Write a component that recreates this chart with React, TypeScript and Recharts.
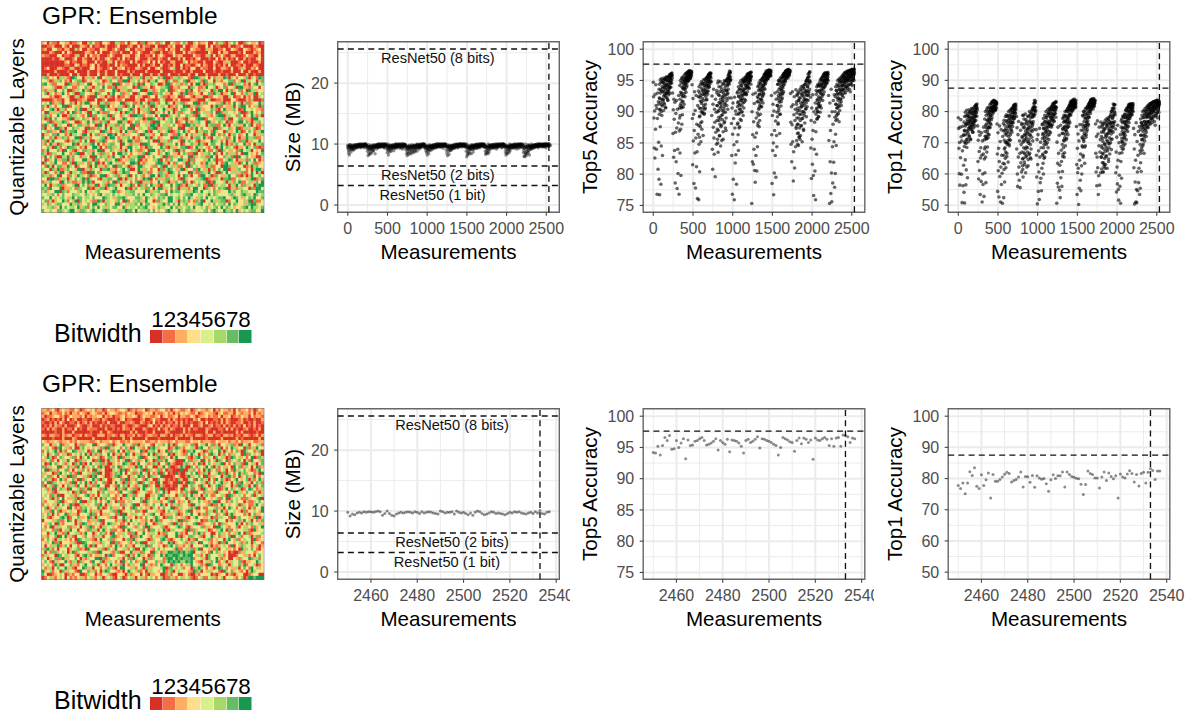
import React from "react";
import { ScatterChart, Scatter, XAxis, YAxis, CartesianGrid, ReferenceLine, ReferenceArea, ReferenceDot } from "recharts";

const palette = ["#d73027", "#f46d43", "#fdae61", "#fee08b", "#d9ef8b", "#a6d96a", "#66bd63", "#1a9850"];
const bitLabels = "12345678";

const cycleStarts = [0, 244, 488, 732, 980, 1240, 1488, 1728, 1980, 2208];
const bandStarts = [70, 330, 570, 800, 1060, 1310, 1560, 1800, 2050, 2290];

const top5Cycles = [
  [94.7,92.4,89.0,84.2,90.1,82.6,92.8,87.2,94.3,91.0,84.0,90.5,76.8,88.9,93.0,80.8,91.6,85.1,79.2,92.2,76.7,90.3,87.6,93.5,78.4,84.5,91.1,89.4,94.8,83.0,93.2,92.0,90.2,94.6,91.4,93.8,95.2,92.6,94.1,90.6,95.4,93.0,94.4,92.2,95.0,93.6,91.8,94.9,95.5,93.2,94.0,95.3,92.9,94.7,95.7,93.9,95.1,96.0,94.6,95.8],
  [93.0,86.5,90.3,82.7,92.0,88.8,83.8,91.5,78.6,86.7,89.7,82.0,91.8,87.4,77.7,90.4,84.0,80.1,88.2,92.6,76.8,86.9,89.0,83.4,91.0,87.2,79.8,90.6,93.0,88.0,91.7,89.5,93.8,90.7,92.5,94.6,91.2,93.7,95.0,92.4,94.4,95.4,93.1,94.9,95.6,94.2,95.2,96.0,95.0,95.7,96.2,95.3,95.9,96.4,95.6,96.1,95.4,96.3,95.8,96.4],
  [94.3,88.9,81.5,92.1,85.3,89.6,78.5,87.0,93.2,83.4,90.2,77.8,85.8,92.6,81.2,88.0,83.6,76.1,91.0,86.4,93.3,75.9,84.8,89.2,80.4,92.3,87.6,90.5,85.2,93.8,91.6,88.4,94.4,90.0,92.8,86.2,93.6,91.0,94.5,89.7,92.9,94.0,90.6,93.3,95.0,91.9,94.3,95.3,93.2,94.8,95.6,94.2,95.1,96.0,93.9,95.5,96.2,94.8,95.8,96.1],
  [94.8,89.4,92.5,84.0,80.8,91.2,87.5,93.6,85.8,83.2,90.4,88.3,79.6,92.0,86.7,89.9,84.8,93.0,91.0,87.2,85.0,83.5,94.9,90.2,88.6,92.6,86.1,91.4,89.0,84.5,94.0,90.8,87.8,93.2,91.6,89.5,92.2,85.6,94.5,90.4,88.2,93.4,91.2,94.8,89.9,92.7,87.0,95.0,93.3,91.8,94.4,95.3,93.0,95.8,94.6,96.1,95.2,96.5,95.6,96.2,95.0],
  [92.2,88.1,83.0,90.6,76.8,86.4,91.4,79.2,88.9,84.7,75.9,92.3,87.4,81.8,90.1,83.1,89.6,78.4,85.2,93.0,88.0,91.4,86.3,83.8,92.5,89.8,91.0,87.6,93.6,90.4,92.1,94.2,88.6,91.8,93.3,90.0,94.6,92.6,89.4,95.0,93.2,91.5,94.8,92.9,95.2,93.7,94.2,95.5,92.8,94.9,95.9,94.0,95.3,96.1,94.6,95.6,93.8,96.2,95.1,95.8,94.9,95.4,96.3,95.7],
  [75.3,90.0,82.0,86.3,92.8,81.6,88.4,84.0,91.3,80.6,85.9,78.7,93.0,83.0,89.0,86.6,80.5,91.6,84.4,87.8,92.2,89.4,94.2,90.6,92.7,88.6,93.5,91.4,94.6,92.0,93.4,90.8,95.0,93.8,92.4,95.4,94.2,93.0,95.6,94.6,96.0,95.0,94.4,96.2,95.4,96.5,95.7,96.1,95.2,96.4,95.9,96.6,95.5,96.2,96.0,96.4,95.8,96.6,96.1,95.7,96.3],
  [92.6,86.3,78.5,89.4,83.8,91.2,85.0,76.7,90.1,80.2,87.0,93.0,83.0,88.5,79.5,92.0,86.2,84.4,91.0,89.2,94.4,88.0,92.6,90.2,95.0,91.5,86.5,93.8,89.6,92.8,94.6,91.6,93.5,95.4,92.2,94.8,93.0,95.8,94.2,95.5,96.1,94.9,95.6,96.3,95.2,96.5,95.8,96.2,95.5,96.6,96.0,96.4,95.7,96.7,96.1,95.9,96.4,96.2,96.5],
  [92.9,88.3,84.8,90.8,82.0,87.9,93.2,85.2,91.1,78.9,83.6,89.5,92.4,81.0,88.6,90.4,84.4,93.5,87.3,91.6,89.0,92.8,86.5,90.2,88.0,84.6,91.8,93.0,86.0,89.6,85.6,92.2,90.7,87.7,93.4,91.0,88.9,92.6,90.0,93.8,91.3,87.2,94.0,92.0,89.8,93.1,91.7,94.4,92.8,90.5,95.0,93.4,91.9,95.3,94.0,92.6,96.0,94.7,93.2,95.6,96.3,94.9],
  [92.3,84.2,88.6,79.3,90.6,85.6,81.6,92.7,87.0,79.8,76.6,90.0,84.0,88.3,80.5,91.4,75.9,86.8,93.4,83.2,90.6,88.9,92.0,90.0,94.1,91.3,89.2,93.3,90.8,94.4,92.2,91.0,94.0,92.9,95.1,93.5,94.5,92.7,95.6,94.0,95.0,96.0,93.8,95.4,94.7,96.2,95.0,94.2,95.8,96.0,94.6,95.3,96.2,95.1,95.7,96.0],
  [92.6,85.4,89.3,75.3,91.4,82.0,87.0,76.9,93.6,80.2,75.6,90.0,84.4,78.6,88.0,91.8,81.9,85.2,92.7,77.9,89.1,80.1,86.4,91.2,84.6,93.4,90.6,88.8,92.2,89.6,94.0,91.0,92.8,88.4,93.5,90.2,94.6,92.0,93.2,95.0,91.6,94.2,92.8,95.3,93.6,94.8,92.3,95.6,94.2,93.4,95.8,94.7,95.2,93.0,96.2,94.9,95.5,94.0,96.0,95.3,93.8,96.4,95.0,95.7,94.3,96.5,95.4,96.1,93.2,96.6,95.6,94.5,96.3,95.8,96.7,94.9,96.2,95.2,96.5,96.0,96.8,96.4],
];

const top5Bands = [
  [91.2,93.6,89.6,94.4,92.1,90.4,95.1,93.0,91.5,94.7,90.0,93.3,95.3,92.0,94.0,90.9,93.8,95.0,91.8,94.6,92.5,93.2,95.4,91.2,94.2,92.8,95.2,93.5,90.7,94.9,92.3,93.9,95.6,92.9,94.4,93.1,95.5,91.9,94.1,95.0,93.4,92.7,95.7,94.3,93.7,95.9,94.8,93.9,95.3,96.0,94.5,95.6,96.1,95.0,95.8,96.2,95.4],
  [90.6,94.2,92.0,89.4,95.0,93.1,91.3,94.6,92.7,95.3,90.8,93.9,95.5,92.4,94.8,91.6,95.2,93.6,94.3,95.7,92.9,95.0,94.0,96.0,93.5,95.4,94.6,96.1,95.1,93.9,96.2,95.5,94.7,96.3,95.0,95.8,96.4,95.3,94.9,96.5,95.6,96.1,95.2,96.6,95.8,96.3,95.4,96.5,96.0,95.7,96.4,96.2],
  [92.4,87.8,94.0,90.6,85.9,93.0,89.3,91.7,94.4,88.2,92.6,90.0,94.8,91.3,87.2,93.4,89.8,92.1,94.6,90.6,93.2,95.1,91.8,89.6,94.2,92.7,90.4,95.2,93.5,91.2,94.7,92.4,95.4,93.0,94.2,91.9,95.5,93.8,92.8,95.7,94.5,93.3,95.9,94.9,94.0,96.0,95.2,94.4,96.1,95.6,94.8,96.2,95.4],
  [93.4,88.6,91.0,85.6,94.6,90.0,87.0,92.7,89.1,94.0,91.5,86.2,93.2,88.0,90.6,94.8,92.0,87.6,91.2,89.4,93.6,85.4,90.2,92.4,88.7,94.4,91.8,86.8,93.0,89.9,92.6,90.8,95.0,88.4,93.8,91.4,87.4,94.2,92.2,89.0,94.9,93.4,91.0,95.2,92.8,94.1,90.4,95.4,93.6,94.7,92.2,95.8,94.4,95.2,96.2,94.9,95.6,96.4,95.2],
  [90.8,93.2,88.2,91.6,94.0,89.6,92.4,87.4,93.6,90.4,94.6,91.2,88.8,93.0,91.8,95.0,89.9,92.6,94.2,90.9,93.8,92.1,95.2,91.4,93.4,94.8,92.8,90.6,95.4,93.6,92.0,94.5,95.0,93.0,91.8,95.6,94.2,92.7,95.3,93.8,94.9,95.7,93.2,94.4,95.9,94.0,95.2,96.0,94.6,93.7,95.5,96.1,94.9,95.7,96.2,95.2,94.4,96.3,95.6],
  [89.8,92.4,94.0,88.2,91.6,93.4,90.4,94.6,87.6,92.8,91.0,93.8,95.0,89.6,92.0,94.4,90.8,93.0,95.2,91.8,94.0,92.6,95.4,93.4,91.4,95.0,94.2,92.8,95.7,93.8,94.8,95.9,93.6,95.2,96.0,94.6,95.5,96.2,94.9,95.8,96.3,95.2,96.0,96.5,95.6,96.1,95.3,96.6,95.9,96.3,96.7,95.7,96.2,96.5,96.0,96.4,95.8,96.6],
  [89.9,93.2,91.0,94.4,88.2,92.2,95.0,90.6,93.6,91.8,94.8,89.6,93.0,95.3,92.4,94.2,90.9,95.5,93.4,92.0,95.0,94.0,92.8,95.8,93.8,94.6,96.0,93.2,95.4,96.1,94.4,95.7,96.2,95.0,96.3,94.8,95.9,96.5,95.3,96.1,96.6,95.6,96.3,96.7,95.9,96.4,95.4,96.6,96.0,96.8,96.2,95.8,96.5,96.3,96.6],
  [87.6,91.2,85.4,89.8,92.6,88.0,84.8,90.6,93.2,86.6,91.8,89.0,85.9,92.2,87.4,90.2,93.6,88.6,86.2,91.4,89.6,94.0,87.8,92.8,90.8,85.2,93.0,88.9,91.6,94.2,90.0,87.0,92.4,89.4,93.6,91.0,88.2,94.4,92.0,90.4,93.2,94.8,91.4,89.2,95.0,92.6,90.8,94.0,95.4,93.2,91.8,95.6,94.4,92.8,96.1,95.0,93.6,96.4,94.7],
  [89.6,92.8,90.4,94.0,88.8,91.8,93.2,90.0,94.4,91.2,89.2,92.4,94.2,90.8,93.4,91.6,94.8,89.9,93.0,95.2,92.0,94.2,90.6,95.4,93.4,92.4,95.0,94.4,91.8,95.6,93.8,92.8,95.8,94.6,93.2,96.0,95.0,94.0,95.6,96.2,94.4,95.3,96.1,94.8,95.8,96.2,95.2,94.6,96.0,95.5,96.3,95.0],
  [90.0,92.4,94.0,88.6,91.2,93.4,89.4,92.8,94.4,90.6,93.0,95.0,91.8,89.8,94.2,92.2,95.2,90.8,93.6,94.8,91.4,95.4,93.0,92.0,95.0,94.0,91.0,95.6,93.4,94.6,92.6,95.8,94.2,93.6,95.3,96.0,94.8,93.0,95.6,96.2,94.4,95.1,93.8,96.3,95.4,94.0,96.1,95.0,96.4,94.6,95.7,93.4,96.5,95.2,94.2,96.2,95.8,94.9,96.6,95.4,93.6,96.0,96.6,95.1,94.4,96.4,95.7,96.7,94.9,96.2,95.5,96.8,94.2,96.0,96.5,95.3,96.7,95.8,96.4,95.0,96.8,96.1],
];

const top1Cycles = [
  [78.0,74.6,68.2,60.1,70.1,56.4,75.0,65.2,77.4,71.9,59.9,70.6,50.8,67.4,75.3,56.2,72.5,62.8,54.1,73.8,50.7,69.9,64.5,76.0,56.5,61.3,71.0,68.5,78.8,58.8,76.2,74.0,70.3,78.4,72.2,76.8,79.7,74.8,77.3,71.2,80.1,75.8,78.2,74.2,79.4,76.6,73.4,78.9,80.2,76.0,77.6,79.9,75.4,78.6,80.6,77.2,79.6,81.8,78.5,81.0],
  [75.4,64.0,70.8,58.4,73.6,67.2,61.1,72.4,53.4,65.1,68.4,57.6,73.2,66.0,51.0,70.6,60.0,56.6,66.4,75.0,52.8,64.8,68.0,60.4,72.1,65.4,57.2,71.2,76.0,67.0,73.4,68.6,77.2,71.6,75.0,79.0,72.6,77.0,80.2,74.8,78.6,81.0,75.8,79.6,81.4,78.0,80.4,82.4,80.0,81.2,83.2,80.6,81.6,83.4,81.0,82.2,80.4,83.0,81.4,82.6],
  [76.0,66.4,54.4,73.2,61.0,68.2,52.6,64.0,75.4,59.2,70.4,51.0,62.2,74.2,56.6,66.0,60.2,50.6,72.0,63.4,76.2,52.4,61.4,68.0,57.4,74.0,65.0,70.2,62.0,77.0,73.2,66.6,78.4,70.0,75.2,63.8,77.2,72.0,78.8,69.0,75.4,78.0,70.8,76.6,79.8,74.0,78.4,80.6,76.4,79.6,81.0,78.2,80.0,82.0,77.8,80.8,82.2,79.6,81.4,81.8],
  [78.4,68.0,74.8,60.0,56.0,72.6,65.4,76.8,62.2,58.0,70.6,66.6,55.6,74.0,63.6,69.4,60.6,75.8,72.0,64.8,61.4,59.0,78.8,70.6,66.8,75.0,63.0,72.8,68.0,60.4,77.4,71.4,65.8,76.2,73.0,68.4,74.4,62.6,78.6,70.4,66.2,76.6,72.4,79.0,69.4,75.0,64.8,79.8,76.4,73.6,78.4,80.6,76.0,81.4,79.0,82.6,80.2,83.6,81.4,82.8,80.0],
  [74.2,66.0,59.0,71.0,50.4,63.0,72.6,54.4,67.4,60.6,51.8,74.6,65.4,57.2,70.2,58.6,68.4,54.6,61.8,75.8,66.0,72.6,63.4,60.0,74.6,69.4,71.6,65.4,76.8,70.4,74.0,78.0,67.0,73.2,76.4,70.0,78.8,75.0,68.4,79.6,76.2,72.6,79.2,75.8,80.4,77.2,78.2,81.0,75.4,79.4,81.8,77.8,80.4,82.6,78.8,81.2,77.0,82.8,80.2,81.6,79.4,80.8,83.0,81.2],
  [50.6,70.2,57.0,63.4,75.0,55.8,66.6,60.6,72.4,54.8,62.8,52.4,75.6,58.8,67.6,64.0,56.0,73.0,60.8,65.6,74.4,68.4,78.2,70.6,75.0,66.8,76.8,72.6,78.8,74.0,76.6,71.4,80.0,77.4,75.0,80.8,78.4,76.0,81.4,79.0,82.2,80.4,79.0,83.0,80.8,83.4,81.6,82.6,80.2,83.2,82.0,83.4,81.0,82.8,82.2,83.0,81.4,83.2,82.2,81.2,82.6],
  [75.2,63.0,53.4,68.2,60.4,72.8,61.8,50.2,70.6,55.4,64.4,75.8,58.0,66.4,54.6,74.0,62.6,60.0,71.8,68.6,78.8,66.0,75.0,70.4,80.0,72.4,63.4,77.8,69.0,75.6,79.0,72.6,76.8,81.0,74.2,79.4,76.0,81.8,78.2,81.2,82.6,80.0,81.6,83.2,80.6,83.8,81.8,82.8,81.2,84.0,82.2,83.2,81.6,83.8,82.4,82.0,83.2,82.6,83.4],
  [76.0,66.6,60.6,72.0,56.2,65.4,77.0,62.0,72.8,53.4,59.4,69.0,75.0,56.4,67.0,71.0,60.4,76.6,65.4,73.4,68.4,75.6,63.6,71.4,66.4,60.6,74.0,76.0,63.0,69.6,61.8,74.6,71.8,65.6,76.4,72.2,68.0,75.4,70.4,77.2,73.0,64.8,77.6,74.0,69.6,76.2,73.6,78.6,75.4,71.0,80.0,76.6,73.8,81.0,78.0,75.0,82.4,79.0,76.4,81.0,82.2,79.6],
  [74.4,60.4,67.0,54.2,71.8,62.2,56.8,75.6,64.4,55.0,51.6,70.0,59.6,66.6,56.0,72.6,50.6,64.0,77.0,58.6,71.4,68.0,74.6,70.4,78.4,73.0,69.0,76.6,71.8,79.0,74.8,72.4,78.2,75.8,80.4,77.0,79.0,75.4,81.2,78.0,80.2,82.2,77.8,81.0,79.4,82.4,80.2,78.6,81.8,82.0,79.2,80.8,82.4,80.2,81.4,82.0],
  [74.6,62.0,68.0,50.4,72.6,57.4,64.4,51.0,76.4,55.0,50.8,70.4,60.6,54.6,66.0,73.6,57.2,61.8,75.2,53.4,67.4,55.4,63.6,72.4,60.8,76.4,71.0,67.6,74.8,69.0,78.0,72.4,75.4,66.6,76.8,70.6,79.0,74.6,76.0,80.0,73.4,78.4,75.4,80.6,76.8,79.4,74.8,81.2,78.2,76.6,81.6,79.2,80.2,76.0,82.4,79.6,81.0,77.8,82.0,80.4,77.4,83.0,80.0,81.4,78.6,83.2,80.8,82.0,75.6,83.4,81.2,78.8,82.6,81.6,83.6,79.6,82.4,80.2,83.0,81.8,83.2,82.4],
];

const top1Bands = [
  [72.4,76.6,68.8,78.4,74.0,70.4,79.8,75.4,72.6,78.6,69.8,76.0,80.4,73.6,77.4,71.2,76.8,79.4,73.0,78.4,74.6,75.8,80.6,72.0,77.8,75.0,80.0,76.4,71.0,79.2,74.2,77.0,81.0,75.2,78.0,75.6,80.8,73.4,77.6,79.6,76.4,74.8,81.2,78.2,76.8,81.6,79.0,77.0,80.2,82.0,78.6,81.0,82.2,79.6,81.4,82.4,80.4],
  [71.0,77.6,73.6,68.6,80.0,75.6,72.0,78.8,74.8,80.6,71.4,77.2,81.2,74.2,79.4,72.6,80.2,76.4,78.0,81.4,75.0,79.8,77.6,82.2,76.2,81.0,78.8,82.6,80.4,77.4,83.0,81.2,79.0,83.2,80.2,81.6,83.4,80.8,79.6,83.6,81.4,82.4,80.4,83.4,81.6,82.8,80.6,83.2,82.2,81.0,83.0,82.4],
  [73.8,66.0,77.2,70.8,63.2,75.6,68.4,72.8,78.4,67.0,74.6,70.0,79.0,72.4,65.6,76.6,69.4,74.0,78.6,70.8,76.0,80.0,73.2,69.6,77.6,75.0,71.0,80.4,76.6,72.6,79.0,74.4,80.8,75.8,77.8,73.4,81.0,77.0,75.2,81.4,78.6,76.4,81.8,79.4,77.6,82.0,80.2,78.4,82.2,81.0,79.4,82.4,80.6],
  [76.2,67.0,71.6,62.6,78.8,70.2,65.0,74.8,68.4,77.6,72.4,63.8,76.0,66.4,71.0,79.2,73.8,65.4,72.2,68.6,76.8,62.2,70.4,74.4,67.0,78.4,73.4,64.6,75.6,69.8,74.8,71.2,80.0,66.6,77.0,72.6,65.2,78.0,74.0,68.0,79.4,76.2,71.8,80.6,75.4,78.2,70.6,81.0,76.8,79.0,74.2,81.6,78.6,80.6,82.8,79.2,81.4,83.4,80.4],
  [71.4,76.0,66.4,73.0,77.8,68.4,74.6,65.0,76.6,70.6,78.8,72.2,67.0,75.6,73.4,80.0,69.4,74.8,78.2,71.4,77.0,74.0,80.6,72.4,76.2,79.4,75.2,71.0,81.0,76.6,73.6,78.6,80.2,75.8,73.2,81.4,78.0,75.0,80.8,77.0,79.4,81.8,75.8,78.4,82.2,77.6,80.6,82.4,79.0,76.8,81.2,82.6,79.4,81.6,83.0,80.4,78.2,83.2,81.4],
  [69.4,74.4,77.8,66.4,73.0,76.6,70.8,78.8,65.4,75.0,71.6,77.0,80.0,69.0,74.0,78.4,71.0,75.6,80.4,73.4,77.8,74.8,81.0,76.6,72.6,80.0,78.0,75.2,81.6,77.0,79.2,82.0,76.4,80.6,82.2,78.8,81.4,82.8,79.6,81.8,83.0,80.4,82.2,83.6,81.0,82.6,80.6,83.8,82.0,83.0,84.0,81.4,82.6,83.4,82.0,83.0,81.6,83.6],
  [69.0,75.8,71.4,78.6,65.4,74.0,80.0,71.0,76.8,73.0,79.2,68.6,75.4,80.8,74.6,78.0,71.8,81.2,76.4,73.6,80.0,77.8,75.2,81.6,77.0,78.8,82.2,75.8,80.8,82.4,78.2,81.4,82.8,80.0,83.0,79.4,82.0,83.6,80.6,82.4,83.8,81.4,82.8,84.0,81.8,83.2,80.8,83.6,82.2,84.2,82.6,81.6,83.4,82.8,83.6],
  [65.4,72.0,61.6,69.0,75.0,66.6,60.6,70.4,76.2,63.6,73.4,68.0,62.4,74.4,65.0,69.6,77.0,67.2,63.0,72.6,68.8,77.6,65.8,75.4,70.8,61.8,76.0,67.4,73.0,78.0,69.8,64.0,74.6,68.4,76.8,71.6,66.4,78.4,74.0,70.0,76.2,79.2,72.8,67.8,80.0,75.0,71.2,77.8,80.6,76.4,73.4,81.2,78.6,75.6,82.2,80.0,76.8,82.2,79.0],
  [68.8,75.0,70.4,77.6,66.8,73.6,76.4,69.8,78.6,72.6,68.0,74.8,78.0,71.4,76.8,73.2,79.2,69.6,75.8,80.4,74.0,78.0,71.0,81.0,76.6,74.6,80.0,78.6,73.6,81.4,77.2,75.2,81.8,79.0,76.4,82.0,80.0,77.8,81.2,82.4,78.6,80.8,82.2,79.4,81.6,82.4,80.4,79.0,82.0,81.0,82.6,80.0],
  [69.4,74.2,77.6,66.6,72.4,76.4,68.4,75.4,78.8,71.0,75.8,80.0,73.6,69.6,78.2,74.4,80.4,71.6,76.8,79.2,72.6,81.0,75.8,74.0,80.0,78.0,72.0,81.4,76.4,79.0,75.0,81.8,78.4,76.8,80.6,82.0,79.4,75.8,81.2,82.4,78.6,80.2,77.0,82.6,81.0,77.8,82.2,79.8,82.8,79.0,81.4,76.4,83.0,80.4,78.2,82.4,81.6,79.6,83.2,80.8,76.8,82.0,83.2,80.2,78.6,82.8,81.4,83.4,79.4,82.4,81.0,83.6,78.0,82.2,83.0,80.6,83.4,81.6,82.8,79.8,83.2,82.4],
];

const sizeCycles = [
  [9.8,9.3,8.9,8.5,9.6,8.2,9.7,9.0,9.9,9.4,8.7,9.5,9.6,9.2,9.8,9.1,9.6,9.4,9.0,9.7,9.2,9.5,9.8,9.7,9.4,9.9,9.6,9.7,9.9,9.5,9.8,9.7,9.9,9.5,10.0,9.7,9.9,9.8,9.6,10.0,9.8,9.9,9.7,10.0,9.6,9.8,9.9,10.0,9.7,9.9,9.6,9.8,10.0,9.9,9.7,10.0,9.8,9.9,10.0,9.8],
  [9.7,8.8,9.3,8.1,9.5,8.4,9.0,9.6,8.3,9.2,8.6,9.7,9.1,8.5,9.4,9.6,8.8,9.3,9.7,9.0,8.9,9.5,9.8,9.4,9.6,8.4,9.7,9.5,9.9,9.2,9.8,9.6,9.9,9.4,10.0,9.7,9.5,9.9,9.8,9.6,10.0,9.7,9.9,9.5,10.0,9.8,9.6,10.0,9.9,9.7,10.0,9.8,9.6,10.0,9.9,9.7,10.0,9.8,9.9,10.0],
  [9.8,9.2,8.6,9.6,9.0,9.4,8.2,9.7,9.1,8.7,9.5,9.3,9.8,9.0,8.8,9.6,9.4,9.2,9.7,9.5,9.8,9.3,9.6,8.9,9.7,9.4,9.9,9.5,9.8,9.6,10.0,9.3,9.8,9.6,9.9,9.5,10.0,9.7,9.9,9.6,10.0,9.8,9.5,9.9,9.7,10.0,9.8,9.6,10.0,9.9,9.7,10.0,9.8,9.6,10.0,9.9,9.7,10.0,9.9,9.8],
  [9.7,9.0,8.4,9.5,8.1,8.7,9.3,9.6,8.5,9.1,8.3,9.4,8.9,9.6,8.6,9.2,9.7,8.4,9.5,9.0,8.8,9.6,9.3,8.6,9.7,9.1,9.8,8.7,9.4,9.6,8.9,9.7,9.2,9.8,9.5,8.8,9.9,9.3,9.7,9.5,9.9,9.6,9.2,9.8,9.6,10.0,9.4,9.8,9.7,10.0,9.5,9.9,9.8,10.0,9.7,9.9,10.0,9.8,9.9,10.0,9.7],
  [9.6,8.9,9.3,8.6,9.6,8.2,9.2,8.8,9.6,9.1,8.4,9.7,9.4,8.9,9.7,9.2,9.6,9.0,9.4,9.7,9.5,9.8,9.2,9.6,9.8,9.4,9.9,9.6,9.3,9.8,9.7,9.5,10.0,9.6,9.8,9.9,9.5,10.0,9.7,9.9,9.6,10.0,9.8,9.7,10.0,9.9,9.6,10.0,9.8,9.7,10.0,9.9,9.6,10.0,9.8,9.9,9.7,10.0,9.9,9.7,10.0,9.8,9.9,10.0],
  [9.0,9.5,8.5,9.6,8.1,9.2,9.7,8.8,9.4,8.3,9.6,9.1,8.9,9.7,9.3,9.0,9.5,9.7,9.2,9.8,9.4,9.6,9.8,9.3,9.7,9.9,9.5,9.8,9.6,10.0,9.7,9.4,9.9,9.8,9.6,10.0,9.7,9.9,9.8,10.0,9.6,9.9,10.0,9.7,9.9,10.0,9.8,9.7,10.0,9.9,9.8,10.0,9.7,9.9,10.0,9.8,10.0,9.9,9.7,10.0,9.9],
  [9.6,8.8,7.9,9.2,8.3,9.5,8.7,8.2,9.4,8.6,9.1,9.7,8.5,9.3,9.0,9.6,9.2,8.4,9.7,9.4,9.8,9.1,9.6,8.7,9.8,9.5,9.2,9.7,9.9,9.4,9.8,9.6,9.9,9.3,10.0,9.7,9.5,9.9,9.8,9.6,10.0,9.8,9.7,10.0,9.9,9.6,10.0,9.8,9.7,10.0,9.9,9.8,10.0,9.7,9.9,10.0,9.8,9.9,10.0],
  [9.4,8.8,8.3,9.5,8.5,9.0,9.6,8.6,9.3,8.9,8.4,9.6,9.2,8.7,9.7,9.4,9.1,9.8,9.5,9.7,9.3,9.8,9.6,9.9,9.4,9.7,9.9,9.5,9.8,9.6,10.0,9.7,9.5,9.9,9.8,9.6,10.0,9.7,9.9,9.8,10.0,9.6,9.9,9.7,10.0,9.8,9.9,9.7,10.0,9.8,9.9,10.0,9.7,9.9,10.0,9.8,9.9,10.0,9.7,10.0,9.9,9.8],
  [9.5,8.7,9.2,8.2,9.6,8.5,9.0,9.6,8.4,9.3,8.8,9.7,9.1,8.6,9.5,9.2,8.9,9.7,9.4,9.6,9.8,9.3,9.7,9.5,9.9,9.6,9.4,9.8,9.7,10.0,9.5,9.8,9.9,9.6,10.0,9.7,9.9,9.8,9.6,10.0,9.8,9.9,9.7,10.0,9.9,9.6,10.0,9.8,9.9,10.0,9.7,9.9,10.0,9.8,9.9,10.0],
  [9.4,8.6,9.0,8.0,9.3,7.9,8.7,8.3,9.5,8.5,8.1,9.2,8.8,8.4,9.4,9.0,8.6,9.6,8.9,9.3,8.2,9.5,9.1,9.6,9.3,9.7,9.4,9.2,9.7,9.5,9.8,9.3,9.7,9.6,9.9,9.4,9.8,9.6,9.7,9.9,9.5,9.8,9.7,10.0,9.6,9.9,9.7,9.8,10.0,9.6,9.9,9.8,10.0,9.7,9.9,9.8,10.0,9.6,9.9,9.8,10.0,9.7,9.9,10.0,9.8,9.9,9.6,10.0,9.8,9.9,10.0,9.7,9.9,10.0,9.8,9.9,10.0,9.8,9.9,10.0,9.9,10.0],
];

const sizeBandA = [9.5,9.3,9.6,9.2,9.5,9.7,9.3,9.6,9.4,9.7,9.5,9.6,9.8,9.4,9.7,9.3,9.6,9.2,9.5,9.3,9.7,9.4,9.6,9.8,9.4,9.7,9.5,9.8,9.6,9.4,9.7,9.8,9.3,9.6,9.8,9.5,9.7,9.4,9.8,9.6,9.7,9.3,9.6,9.2,9.5,9.3,9.6,9.2,9.4,9.6,9.3,9.7,9.5,9.3,9.6,9.8,9.4,9.7,9.5,9.8,9.6,9.3,9.5,9.2,9.6,9.4,9.7,9.3,9.5,9.7,9.4,9.6,9.8,9.5,9.7,9.3,9.6,9.8,9.5,9.7,9.4,9.6,9.2,9.5,9.3,9.6,9.7,9.4,9.6,9.8,9.5,9.7,9.6,9.8,9.5,9.4,9.2,9.5,9.6,9.3,9.7,9.5,9.3,9.6,9.4,9.7,9.8,9.5,9.6,9.7,9.4,9.6,9.8,9.5,9.7,9.3,9.5,9.2,9.4,9.6,9.7,9.4,9.5,9.8,9.6,9.7,9.4,9.6,9.8,9.5,9.7,9.3,9.5,9.2,9.4,9.3,9.6,9.5,9.7,9.4,9.6,9.5,9.7,9.8,9.4,9.6,9.7,9.5,9.8,9.6,9.4,9.7,9.8,9.5,9.6,9.7,9.4,9.8,9.6,9.7];
const sizeBandB = [9.7,9.9,9.4,9.8,9.6,9.9,9.5,9.8,9.7,9.9,9.4,9.8,9.6,10.0,9.7,9.5,9.9,9.6,9.8,9.4,9.9,9.7,9.8,9.5,10.0,9.6,9.9,9.7,9.4,9.9,9.6,10.0,9.8,9.5,9.7,9.9,9.6,10.0,9.5,9.8,9.9,9.6,9.4,9.8,9.7,9.9,9.5,9.7,9.8,9.5,9.9,9.6,9.8,9.7,10.0,9.5,9.9,9.6,9.8,10.0,9.4,9.7,9.8,9.6,9.9,9.7,9.5,9.8,9.9,9.6,10.0,9.7,9.5,9.9,9.8,9.6,10.0,9.7,9.9,9.5,9.8,9.7,9.5,9.8,9.6,9.9,9.5,9.8,10.0,9.6,9.9,9.7,9.5,10.0,9.8,9.6,9.7,9.9,9.4,9.8,9.6,9.9,9.7,9.5,9.8,10.0,9.6,9.9,9.7,9.5,10.0,9.8,9.6,9.9,9.5,9.8,9.7,9.5,9.9,9.7,9.8,9.5,10.0,9.6,9.9,9.7,9.5,10.0,9.8,9.6,9.9,9.7,9.5,9.8,9.6,9.9,9.5,9.8,9.7,10.0,9.6,9.9,9.8,9.6,10.0,9.7,9.5,9.9,9.8,9.6,10.0,9.7,9.9,9.8,9.6,10.0,9.7,9.9,10.0,9.8];

const zoomStart = 2450;
const zoomSize = [9.8,9.2,9.5,9.4,9.7,9.8,9.7,9.9,9.8,9.9,9.9,9.8,9.9,10.0,9.9,9.3,9.6,10.0,9.6,9.3,9.2,9.5,9.7,9.8,9.7,9.8,9.9,9.8,9.7,9.9,9.8,9.6,9.9,9.7,9.8,9.9,9.8,9.7,9.6,9.5,10.0,9.9,9.7,9.8,9.8,9.9,9.5,10.0,9.8,9.7,9.8,9.6,9.4,9.7,9.3,9.8,10.0,9.9,9.6,9.4,9.5,9.7,9.9,9.8,9.6,9.7,9.6,9.5,9.4,9.6,9.8,9.7,9.9,9.8,9.9,9.7,9.6,9.5,9.7,9.8,9.6,9.9,9.7,10.1,9.6,9.5,9.8,9.9];
const zoomTop5 = [94.2,94.1,95.2,93.8,95.3,96.6,96.1,96.9,94.7,94.8,96.1,95.0,95.7,96.4,93.2,96.2,95.3,95.4,96.0,96.1,96.4,96.6,96.1,95.4,95.5,95.7,96.0,96.4,94.6,96.1,95.8,95.5,96.3,94.3,96.2,96.1,96.0,95.7,95.2,94.1,96.1,96.3,95.8,96.0,96.3,96.7,94.9,96.4,96.3,96.1,96.0,95.8,95.5,95.3,93.8,95.0,96.6,96.4,96.2,95.9,95.8,94.4,96.1,96.5,95.6,96.5,96.3,95.8,96.2,93.1,96.5,96.2,96.1,96.4,96.6,96.3,95.3,96.4,95.2,96.5,96.6,95.2,97.0,96.9,96.7,95.8,96.5,96.4];
const zoomTop1 = [77.8,76.8,78.6,75.1,78.6,82.2,81.0,83.5,77.5,76.8,81.2,77.8,79.6,81.8,73.8,81.3,79.1,79.1,79.7,80.5,81.4,82.0,81.6,78.9,79.4,79.7,80.5,82.1,77.3,80.7,80.6,78.8,81.0,77.2,80.9,80.2,79.8,80.0,78.3,75.9,79.6,81.2,80.0,80.9,80.9,82.1,77.3,82.1,81.3,80.7,80.4,80.1,79.9,78.2,74.9,78.1,82.4,81.6,81.3,80.2,80.2,77.0,80.5,82.1,79.4,81.8,80.7,79.9,80.9,73.8,81.5,80.5,80.2,81.5,82.5,81.6,78.9,81.3,77.6,81.6,82.0,78.6,82.0,83.2,82.6,79.7,82.4,82.4];

const heatAll = [
"3416221453312264113752214431166225134412713352264115322473116423351142662135741126433512",
"1122311142141113321412211311124111231141322114111132511141123311141412211131122411113211",
"2311452213311624113221143311252116411322311136221413311521143221163311224114321153212341",
"1113211141421111133214141113221311141242111321131122411141322111114211413311112141113231",
"3221114512211361141422311125211143311641122141342111523311114221136141242113311125221141",
"1111211341112411321131311342113141211431113211321141113141121341112114131312141131211341",
"1111111113412211331114121163141221141311225141412113311164132211311142113361112411211131",
"1111111112211431221341311121141322111141311231141121311412211341321131213141122131113211",
"1241113321163112111441321125113341211632114113521124611312144113221151133214112631132411",
"1111131111211411113111311311141111312111131111141111211131131111411121121113111411311131",
"1131112111141131113111411311141211131114111311311141112111311411131111311211141113112111",
"6725341663218754136624815366273145826337166254738112667354218873641526338716425537164287",
"4531266742315677124356641237452288136574231668443175226478133562874416325577243816654137",
"7856224451873326658144732566188243357612844765113882566237415883126674452381766523147856",
"3445621137552264473316658422713366541287335124466781332554176422385561347244618833265514",
"6263384475112665837146622544871336274458116623577481265338714426655173884162357241866344",
"4716523384256117744338265516844723651174438822675331446178226531447286613358144267338156",
"5442311245311661242118533162141225311463112441562213351124421336112245331164122513241165",
"1111232214411122331114112511132241111331142211256111324111133211146112231114421113261112",
"4658236714473152688345166273344817652238461773255864136723548816274453371625846137235586",
"7316425588124637455163288714356621748536247183566412374588136273544168725336147885243617",
"2457831662544738116374528563317744682513667241558336124776525183344762158336741285564332",
"5183366724158237461156832274465138762415337816642585137264478125633741826655347112684357",
"3762448511376653248172556381744265318877246351488126537447632185563247881365527413486261",
"6128574433281665733412758662145387433566128874231567483321654788125436672381457263318854",
"4571236687345112468573326714458836125774336218854667412358326675418334765122568847313674",
"2835716644183577362441885136627374418225563887146635742218867335416772258314663385714226",
"7143588261447635518226734851663274881436552781336672448115326857443618265573481266357124",
"5627334182677845213664518732466158337244682155734681237586244163775286441733586124752368",
"1364778552316643885147263588714623344571866325417753228641573366124885237416752358441636",
"8452613376254881736245567138842366751324487165235541887263416775832146653724851338667224",
"3716855442137662584113678254347165883226447511836627443185765213344876525136842771365584",
"6248331765548214663785142367755184326631887454217366485124573386215774486132675483251667",
"4573186243877652314588614277365143884652317744586216335778124866432571384765213358647212",
"2685447318562134776325881447653261584372641885237465718324566713842257186433527846615348",
"7312664585423781156384627335148867425533718644265874331576228143667582415736624188534257",
"3847521166837452364118576623845714236688153474561827364255817346622851447362818557433116",
"5126483377162554883617244736581243677581324466815237548863172444368571225687413362748513",
"1753684522471866352748131578466324588713265447886315274461837552386641427856331748562234",
"4286157733865124447158363264817756123488654372571846362248175643376225418873664512386745",
"6541738226745388136264517783324685711486365244172687533816447285361624758813367452416883",
"3175426884316657221884735546213687744518362254776318647455183227638461175846633722485161",
"7662358144275386647123588134672653814756243885176236641487315528846127533684472161385574",
"4518872366134756828345216677458131665243878152633774652183544667812336517782246453681237",
"2367445185762233868714556324817366425781336244856713375682417465381285546163758224636748",
"5841367723446815752638146287735144682517374863216558478231664375228173566416385273641788",
"7628544813365276458213677134684558213746627514883642571366248855173424767813326654172885",
"6735488176255467484356754456872346677445487366745248677456368748556476345486754766454877",
"5466752574447665476534784664756453667474845765377846556467784566438476554467345786648756",
"7548464675368477566475448765367786445776486534767488567475864367485646778546875364768447",
"4726135586243817465322871664537518246673385417264488531676242738154863677125584463817225",
"6473567745486673547488645764488353666748577454668374758467453678456474667485764536788654",
"5466734847566483672574846365774483566476785434766548473646758456473567484765344678586647",
"7456447765688537764686557874453668775846667475344786558647763455674786458667483564677458",
];

const heatZoom = [
"3323421343322431234342331243323443123233412332344231343223412343323413243323142334231243",
"2341332242313324321343223134432232433122343413223423132434322412343321342233143233241323",
"3122344231243332413233441323122342334312433223413422341332243123342322413341232433142332",
"1231212131412311221132213211121341221112311242211131321212113241121122131321112312112113",
"2112131421122131231312112141113112232113212141213122131312121123141212131321122311213112",
"1213132213111242112311131212211132112321113412131231221311141123112312213121312141213121",
"2131321131221412113222111311212132213111321121412313211131312211132111221413121123112131",
"1111121131113111111211131132111111131311121131111321111131211111131131121111131311111211",
"3213322132331223132211333122321331223132123322133213122313221332123312213323122133212313",
"1111211131113211111131111121111131131111131111211111131111131111121111131111131211111131",
"4323343233423243333223423334234223243333422332433323423332243342333224333423324233342233",
"7451364823645137264581354627134583462713645214637583124563472156384726145367231846145362",
"5364217846325116743534627183645257318463251786354412687325463178542636715248634517263845",
"2574683162458733641275814367258416733548216675134827564312768453126745831642573186452371",
"6413572436124657483162375584163248751662348517634482165327486513742865137426354182756431",
"4386125764537241648534612477351826643578124563827351684456213785236417563128746352481276",
"3657241463845127364512781316642538174623586412773854311184726351842561734826537416285437",
"5128473562641738215846372611353487621384562376145283211167352482157436681425736218463157",
"7263548134736285163574286113748265336178425511638471123861174265384716253641857236415823",
"4817362557241463742518634111653871246357182643725122111811637425168347256142836574312685",
"6345127846573281456372815112376841562738461523817412182116574823761453827164258376452318",
"3572641436182754362178453112678245136487251763481111243112836574182635416783251647368425",
"5736124862547318264583716411354728163745286411753121217311652847361528473125684357162483",
"2481765343628157483162547211485317264381756231841123118131872456317425683641572846315762",
"7156283415736284516327854115328476153264817351162112115311576428351647823541628736148257",
"4623815763184562738154627834517628437215864357281211125186472531864357126847356124875236",
"4536213455641738224655137463352845671134562247358614435267318845263371654425186347552613",
"5642738114563264578325146674423518637245511364782534416627583341675225463187346524471356",
"3457162584336712455261483756224136658447312565843176233541667482155346274813565227344681",
"6245537813446258116357424683517225364447186533624571842365164475332688145237564413226574",
"2534661475382116643557284136445273568114326574483152667345218564437122586534461735226843",
"4713526644185232675344861257336415528746433165247558123644673815224567331486525374162458",
"5362847133564412785263315446728135564273184456321574662347815334526617483255643172446538",
"3476152458263314556872413364527181436655243784512633571246584413726552347168345426157334",
"6521344786125573348261654437215586334162475538641277534362146854335172664528137445362816",
"1445367225874136542363781455426317584643325168724553461827344651226738554132467385614237",
"4367518324455162873346421587635224146573385412664537186243557812344625176344583152674463",
"5248136645723351467824316655342187543264718345562134468752135547263418865324471536427358",
"3654272146385514432766158347225314865536241774358216644531827355461243685172434566218345",
"4416583327145662384513576241843365227145843665132744586231547386254114763525368417234456",
"6325471848362155374426631547823465512738446253367145582134776432155864233571846245613724",
"2574316653424187566321485537264416728345531264478621355746132845367243551684372465518234",
"4365827144536211875463326548172344625738114665325487134562376418553246172844356237516442",
"5143668237415524683171446532586247331456682745341268573324615544786132356428143765524613",
"3786241454135672318544662175384463257114865325746445382256372681453327154634251836475214",
"5142773465138264453672185543267114583362745186423688778786781546352847653412112365442354",
"2635418746355214786243365178254437162586341275483877887687884362517455362411125436241574",
"6413572283644751326548817234556314728654137264552788687877782456317548623511432645873625",
"4752163548326617345284571366425183574236815447362687878668785321463758246136547213345864",
"3564286114573325684476135248563714263558146237486541735246384562318744235616547382553124",
"5236147558362144873615524376214885536246173354468127535624417386524316875243361574284635",
"8346254173655218447362516875432314865372416655348237146554328761436355218647353241686544",
"7511234641232451126441324532114431623441521334411262451134211324445121344132134511234411",
"1256324641523246325632461356214612563146325642461226324635621246225632461454324612887888",
];

const seq = (starts: number[], step: number, arrs: number[][]) => arrs.flatMap((a, c) => a.map((y, i) => ({ x: starts[c] + step * i, y })));
const zoomSeq = (a: number[]) => a.map((y, i) => ({ x: zoomStart + i, y }));
const bandSeq = (a: number[], first: number) => a.map((y, i) => ({ x: first + 16 * i, y }));
const grid = (rows: string[]) => {
  const cols = rows[0].length;
  const cells: { x: number; y: number; v: number }[] = [];
  rows.forEach((row, j) => { for (let i = 0; i < cols; i++) cells.push({ x: i + 0.5, y: j + 0.5, v: Number(row[i] || 4) }); });
  return { cols, rows: rows.length, cells };
};

const font = '"Liberation Sans", Arial, sans-serif';
const tickStyle = { fontSize: 16, fill: "#4d4d4d", fontFamily: font };
const labelSize = 20.6;
const PLOT_TOP = 41.7, PLOT_H = 170.6, CH = 270;
const DASH = "6 4.2";

function Heat({ top, rows, blur }: { top: number; rows: string[]; blur?: boolean }) {
  const g = grid(rows);
  const plotW = 221.6;
  const w = plotW / g.cols + 0.4, h = PLOT_H / g.rows + 0.4;
  const Cell = (p: any) => (
    <rect x={p.cx - w / 2} y={p.cy - h / 2} width={w} height={h} fill={palette[(p.payload?.v ?? p.v) - 1]} />
  );
  return (
    <div style={{ position: "absolute", left: 0, top }}>
      <ScatterChart width={280} height={CH} margin={{ top: PLOT_TOP, right: 16.4, bottom: 0, left: 0 }}>
        <XAxis type="number" dataKey="x" domain={[0, g.cols]} tick={false} axisLine={false} tickLine={false} height={57.7}
          label={{ value: "Measurements", position: "insideBottom", offset: 11, fontSize: labelSize, fill: "#000", fontFamily: font }} />
        <YAxis type="number" dataKey="y" domain={[0, g.rows]} reversed tick={false} axisLine={false} tickLine={false} width={42}
          label={{ value: "Quantizable Layers", angle: -90, position: "insideLeft", offset: 17, fontSize: labelSize, fill: "#000", fontFamily: font, style: { textAnchor: "middle" } }} />
        <Scatter data={g.cells} isAnimationActive={false} shape={Cell} className={blur ? "heat-blur" : undefined} />
        <ReferenceArea x1={0} x2={g.cols} y1={0} y2={g.rows} fill="none" stroke="#666" strokeWidth={1.4} />
      </ScatterChart>
    </div>
  );
}

type PanelProps = {
  left: number; width: number; top: number; axisW: number; data: { x: number; y: number }[];
  yLabel: string; labelOffset: number; yDomain: number[]; yTicks: number[]; yMinor: number[];
  xDomain: number[]; xTicks: number[]; xMinor: number[];
  hlines: number[]; vline: number; notes?: { x: number; y: number; t: string }[]; opacity: number; r: number;
};

function Panel(p: PanelProps) {
  const plotRight = p.left + p.axisW + 221.6;
  const Dot = (s: any) => <circle cx={s.cx} cy={s.cy} r={p.r} fill="#000" fillOpacity={p.opacity} />;
  return (
    <div style={{ position: "absolute", left: p.left, top: p.top }}>
      <ScatterChart width={p.width} height={CH} margin={{ top: PLOT_TOP, right: p.left + p.width - plotRight, bottom: 0, left: 0 }}>
        <CartesianGrid horizontalValues={p.yMinor} verticalValues={p.xMinor} stroke="#ececec" strokeWidth={1} />
        <CartesianGrid horizontalValues={p.yTicks} verticalValues={p.xTicks} stroke="#ebebeb" strokeWidth={2} />
        <XAxis type="number" dataKey="x" domain={p.xDomain} ticks={p.xTicks} interval={0} allowDataOverflow height={57.7}
          tick={tickStyle} tickSize={3.5} tickMargin={7} axisLine={false} tickLine={{ stroke: "#444", strokeWidth: 1.1 }}
          label={{ value: "Measurements", position: "insideBottom", offset: 11, fontSize: labelSize, fill: "#000", fontFamily: font }} />
        <YAxis type="number" dataKey="y" domain={p.yDomain} ticks={p.yTicks} interval={0} allowDataOverflow width={p.axisW}
          tick={tickStyle} tickSize={3.5} tickMargin={5.5} axisLine={false} tickLine={{ stroke: "#444", strokeWidth: 1.1 }}
          label={{ value: p.yLabel, angle: -90, position: "insideLeft", offset: p.labelOffset, fontSize: labelSize, fill: "#000", fontFamily: font, style: { textAnchor: "middle" } }} />
        <Scatter data={p.data} isAnimationActive={false} shape={Dot} />
        {p.hlines.map((h) => <ReferenceLine key={h} y={h} stroke="#111" strokeWidth={1.35} strokeDasharray={DASH} />)}
        <ReferenceLine x={p.vline} stroke="#111" strokeWidth={1.35} strokeDasharray={DASH} />
        {(p.notes || []).map((n) => (
          <ReferenceDot key={n.t} x={n.x} y={n.y} r={0} shape={(s: any) => (
            <text x={s.cx} y={s.cy} textAnchor="middle" dominantBaseline="central" fontSize={14.6} fontFamily={font} fill="#111">{n.t}</text>
          )} />
        ))}
        <ReferenceArea x1={p.xDomain[0]} x2={p.xDomain[1]} y1={p.yDomain[0]} y2={p.yDomain[1]} fill="none" stroke="#666" strokeWidth={1.4} />
      </ScatterChart>
    </div>
  );
}

const fullX = { xDomain: [-127, 2664], xTicks: [0, 500, 1000, 1500, 2000, 2500], xMinor: [250, 750, 1250, 1750, 2250] };
const zoomX = { xDomain: [2445.65, 2541.35], xTicks: [2460, 2480, 2500, 2520, 2540], xMinor: [2450, 2470, 2490, 2510, 2530] };
const sizeY = { yLabel: "Size (MB)", yDomain: [-1.2, 26.8], yTicks: [0, 10, 20], yMinor: [5, 15, 25], hlines: [25.6, 6.4, 3.2] };
const top5Y = { yLabel: "Top5 Accuracy", yDomain: [73.9, 101.2], yTicks: [75, 80, 85, 90, 95, 100], yMinor: [77.5, 82.5, 87.5, 92.5, 97.5], hlines: [97.6] };
const top1Y = { yLabel: "Top1 Accuracy", yDomain: [47.7, 102.4], yTicks: [50, 60, 70, 80, 90, 100], yMinor: [55, 65, 75, 85, 95], hlines: [87.5] };
const notesFull = [{ x: 1134, y: 24.05, t: "ResNet50 (8 bits)" }, { x: 1134, y: 4.85, t: "ResNet50 (2 bits)" }, { x: 1068, y: 1.6, t: "ResNet50 (1 bit)" }];
const notesZoom = [{ x: 2495, y: 24.05, t: "ResNet50 (8 bits)" }, { x: 2495, y: 4.85, t: "ResNet50 (2 bits)" }, { x: 2492.8, y: 1.6, t: "ResNet50 (1 bit)" }];

function Legend({ top }: { top: number }) {
  return (
    <>
      <div style={{ position: "absolute", left: 54, top: top + 318.5, fontSize: 25, lineHeight: "28px" }}>Bitwidth</div>
      <div style={{ position: "absolute", left: 150, width: 102, top: top + 307.5, fontSize: 22.4, lineHeight: "24px", textAlign: "center" }}>{bitLabels}</div>
      <div style={{ position: "absolute", left: 150, top: top + 330, display: "flex", gap: 0, width: 102 }}>
        {palette.map((c) => <div key={c} style={{ flex: "0 0 12.75px", boxSizing: "border-box", height: 12.7, background: c, boxShadow: "inset -0.6px 0 0 rgba(255,255,255,0.8)" }} />)}
      </div>
    </>
  );
}

export default function App() {
  const rowTop = 367.3;
  const S = { left: 280, width: 289.5, axisW: 57.7, labelOffset: 13 };
  const T5 = { left: 569.5, width: 304, axisW: 73.2, labelOffset: 20 };
  const T1 = { left: 873.5, width: 317.5, axisW: 74.2, labelOffset: 21 };
  const sizeData = [...seq(cycleStarts, 4, sizeCycles), ...bandSeq(sizeBandA, 0), ...bandSeq(sizeBandB, 8)];
  const top5Data = [...seq(cycleStarts, 4, top5Cycles), ...seq(bandStarts, 3, top5Bands)];
  const top1Data = [...seq(cycleStarts, 4, top1Cycles), ...seq(bandStarts, 3, top1Bands)];
  return (
    <div style={{ position: "absolute", left: 0, top: 0, width: 1191, height: 713, overflow: "hidden", background: "#fff", fontFamily: font, color: "#000" }}>
      <style>{`.heat-blur{filter:blur(0.55px)}`}</style>
      <div style={{ position: "absolute", left: 42, top: 2, fontSize: 24.5, lineHeight: "28px" }}>GPR: Ensemble</div>
      <Heat top={0} rows={heatAll} blur />
      <Panel {...S} {...fullX} {...sizeY} top={0} data={sizeData} vline={2533} notes={notesFull} opacity={0.42} r={1.7} />
      <Panel {...T5} {...fullX} {...top5Y} top={0} data={top5Data} vline={2533} opacity={0.6} r={1.8} />
      <Panel {...T1} {...fullX} {...top1Y} top={0} data={top1Data} vline={2533} opacity={0.6} r={1.8} />
      <Legend top={0} />

      <div style={{ position: "absolute", left: 42, top: 3 + rowTop, fontSize: 24.5, lineHeight: "28px" }}>GPR: Ensemble</div>
      <Heat top={rowTop} rows={heatZoom} />
      <Panel {...S} {...zoomX} {...sizeY} top={rowTop} data={zoomSeq(zoomSize)} vline={2533} notes={notesZoom} opacity={0.45} r={1.5} />
      <Panel {...T5} {...zoomX} {...top5Y} top={rowTop} data={zoomSeq(zoomTop5)} vline={2533} opacity={0.45} r={1.5} />
      <Panel {...T1} {...zoomX} {...top1Y} top={rowTop} data={zoomSeq(zoomTop1)} vline={2533} opacity={0.45} r={1.5} />
      <Legend top={rowTop} />
    </div>
  );
}
